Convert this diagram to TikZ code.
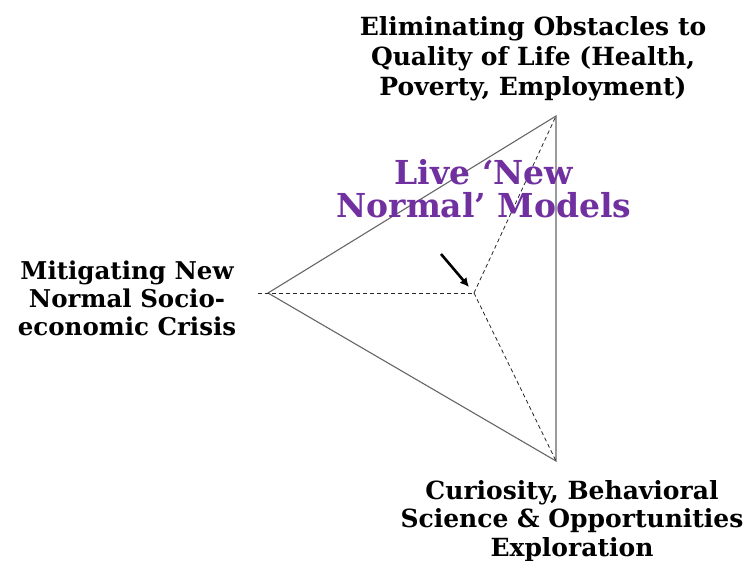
\documentclass[tikz,border=0pt]{standalone}
\usepackage{fontspec}
\setmainfont{DejaVu Serif}
\usetikzlibrary{arrows.meta}
\definecolor{livepurple}{RGB}{112,48,160}
\begin{document}
\begin{tikzpicture}[x=1pt,y=-1pt,
  lbl/.style={align=center,font=\bfseries\fontsize{25}{30}\selectfont,inner sep=0pt},
  edgeline/.style={draw=black!60,line width=1.1pt},
  dashline/.style={draw=black!85,line width=0.8pt,dash pattern=on 4pt off 3pt}]
\useasboundingbox (0,0) rectangle (744,561);
\coordinate (L) at (268,293);
\coordinate (T) at (556,116);
\coordinate (B) at (556,461);
\coordinate (C) at (474,293);
\coordinate (Lx) at (258,293);
\coordinate (As) at (441,254);
\coordinate (Ae) at (469,287);
\draw[edgeline] (L) -- (T) -- (B) -- cycle;
\draw[dashline] (Lx) -- (C);
\draw[dashline] (C) -- (T);
\draw[dashline] (C) -- (B);
\draw[line width=2.6pt,-{Latex[length=9pt,width=9pt]}] (As) -- (Ae);
\node[lbl] (top) at (533,59) {Eliminating Obstacles to\\Quality of Life (Health,\\Poverty, Employment)};
\node[lbl,font=\bfseries\fontsize{24.5}{28}\selectfont] (left) at (127,298) {Mitigating New\\Normal Socio-\\economic Crisis};
\node[lbl,font=\bfseries\fontsize{25}{28.5}\selectfont] (bot) at (572,521) {Curiosity, Behavioral\\Science \& Opportunities\\Exploration};
\node[lbl,text=livepurple,font=\bfseries\fontsize{33}{33}\selectfont] (live) at (484,189) {Live ‘New\\Normal’ Models};
\end{tikzpicture}
\end{document}
